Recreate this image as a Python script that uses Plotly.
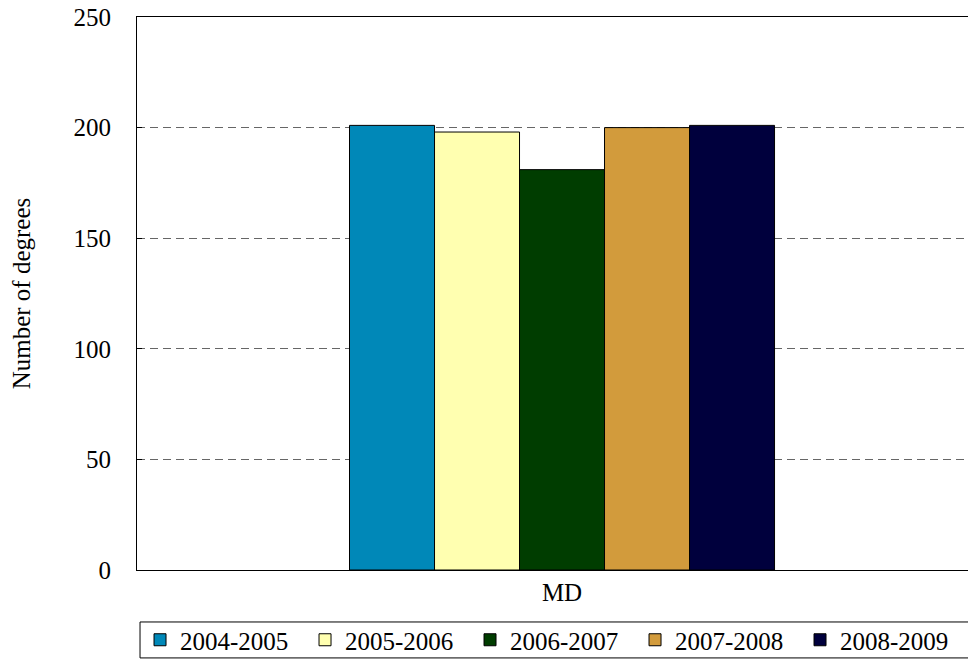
import plotly.graph_objects as go

categories = ["MD"]
series_names = ["2004-2005", "2005-2006", "2006-2007", "2007-2008", "2008-2009"]
series_values = [[201], [198], [181], [200], [201]]
colors = ["#0088B8", "#FFFFB0", "#003D00", "#D29B3C", "#00003D"]
y_ticks = [0, 50, 100, 150, 200, 250]

fig = go.Figure()
for name, vals, col in zip(series_names, series_values, colors):
    fig.add_trace(go.Bar(x=categories, y=vals, name=name,
                         marker=dict(color=col, line=dict(color="black", width=1))))

FAM = "Liberation Serif, Times New Roman, serif"
font = dict(family=FAM, size=25, color="black")
fig.update_layout(
    width=968, height=652,
    margin=dict(l=129, r=0, t=9, b=90, autoexpand=False),
    paper_bgcolor="white", plot_bgcolor="white",
    font=font,
    barmode="group", bargap=0.5, bargroupgap=0,
    showlegend=True,
    legend=dict(orientation="h", x=0.0036, xanchor="left", y=-0.085, yanchor="top",
                borderwidth=0, bgcolor="rgba(0,0,0,0)",
                entrywidth=120, entrywidthmode="pixels",
                font=dict(family=FAM, size=25, color="black"),
                itemwidth=30, tracegroupgap=0),
    xaxis=dict(range=[-0.5, 0.487], showline=True, linecolor="black", linewidth=1, mirror=True,
               showgrid=False, ticks="", tickfont=font),
    yaxis=dict(range=[0, 250], tickvals=y_ticks, showline=True, linecolor="black", linewidth=1,
               showgrid=True, gridcolor="#666666", griddash="8px,5px", gridwidth=1,
               ticks="inside", ticklen=5, tickcolor="black",
               ticklabelstandoff=20, ticklabeloverflow="allow", zeroline=False,
               title=dict(text="Number of degrees", font=font, standoff=35)),
    shapes=[dict(type="rect", xref="paper", yref="paper", x0=0.0036, x1=1.05, y0=-0.094, y1=-0.159,
                 line=dict(color="black", width=1), fillcolor="rgba(0,0,0,0)")],
)
fig.write_html("out.html")
